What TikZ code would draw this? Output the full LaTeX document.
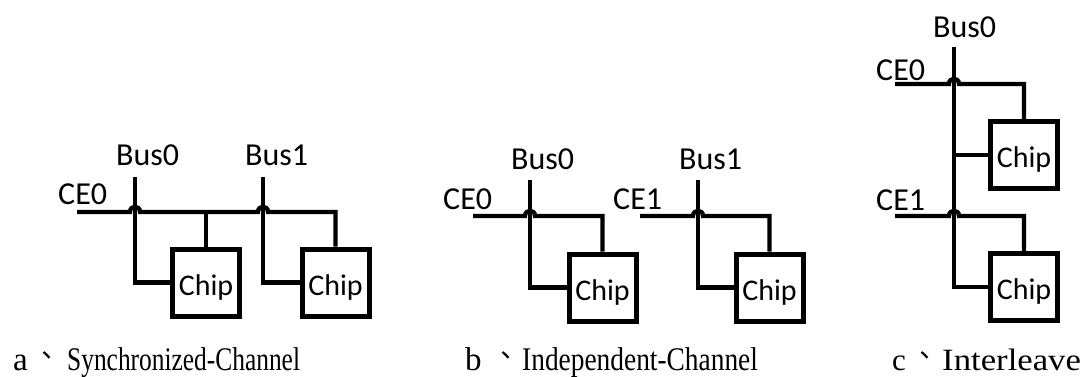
\documentclass[tikz,border=0pt]{standalone}
\usepackage{fontspec}
\usepackage{graphicx}
\setmainfont{Carlito}
\newfontfamily\capfont{Liberation Serif}
\newfontfamily\cjk{Noto Sans CJK TC}
\usetikzlibrary{calc}
\tikzset{
  wire/.style={line width=4.3pt, line join=miter},
  chipbox/.style={draw, line width=5pt, minimum width=67pt, minimum height=67pt, inner sep=0pt,
    font=\fontsize{30}{34}\selectfont},
  sig/.style={anchor=base west, inner sep=0pt, font=\fontsize{32}{36}\selectfont},
  captext/.style={anchor=base west, inner sep=0pt, font=\capfont\fontsize{33}{38}\selectfont},
  capsmall/.style={captext, font=\capfont\fontsize{31}{36}\selectfont},
  capmark/.style={anchor=base west, inner sep=0pt, font=\cjk\fontsize{27}{32}\selectfont},
}
\newcommand{\chiptext}{\raisebox{-12.5pt}[0pt][0pt]{Chip}}
\newcommand{\dunhao}{\raisebox{5pt}{、}}
\newcommand{\hop}[1]{-- ($(#1)+(-5,0)$) .. controls +(0,-7) and +(0,-7) .. ($(#1)+(5,0)$)}
\begin{document}
\begin{tikzpicture}[x=1pt,y=-1pt]
\useasboundingbox (0,0) rectangle (1086,376);

% ---------- a: Synchronized-Channel ----------
\node[chipbox] (a1) at (206,282.5) {\chiptext};
\node[chipbox] (a2) at (335.5,282.5) {\chiptext};
\coordinate (aB0) at (135,177);
\coordinate (aB1) at (263,177);
\coordinate (aCE) at (77,212);
\coordinate (aX0) at (aB0 |- aCE);
\coordinate (aX1) at (aB1 |- aCE);
\draw[wire] (aB0) -- (aB0 |- a1.west) -- (a1.west);
\draw[wire] (aB1) -- (aB1 |- a2.west) -- (a2.west);
\draw[wire] (aCE) \hop{aX0} \hop{aX1} -- (a2.north |- aCE) -- (a2.north);
\draw[wire] (a1.north |- aCE) -- (a1.north);
\node[sig] (aLB0) at (116,165) {Bus0};
\node[sig] (aLB1) at (245,165) {Bus1};
\node[sig] (aLCE) at (58,204) {CE0};

% ---------- b: Independent-Channel ----------
\node[chipbox] (b1) at (602.5,287.5) {\chiptext};
\node[chipbox] (b2) at (769.5,287.5) {\chiptext};
\coordinate (bB0) at (530,180);
\coordinate (bB1) at (698,180);
\coordinate (bCE0) at (473,216);
\coordinate (bCE1) at (640,216);
\coordinate (bX0) at (bB0 |- bCE0);
\coordinate (bX1) at (bB1 |- bCE1);
\draw[wire] (bB0) -- (bB0 |- b1.west) -- (b1.west);
\draw[wire] (bB1) -- (bB1 |- b2.west) -- (b2.west);
\draw[wire] (bCE0) \hop{bX0} -- (b1.north |- bCE0) -- (b1.north);
\draw[wire] (bCE1) \hop{bX1} -- (b2.north |- bCE1) -- (b2.north);
\node[sig] (bLB0) at (511,169) {Bus0};
\node[sig] (bLB1) at (679,169) {Bus1};
\node[sig] (bLCE0) at (443,209) {CE0};
\node[sig] (bLCE1) at (613,209) {CE1};

% ---------- c: Interleave ----------
\node[chipbox] (c1) at (1024,155) {\chiptext};
\node[chipbox] (c2) at (1024,287) {\chiptext};
\coordinate (cB) at (954,47);
\coordinate (cCE0) at (895,84);
\coordinate (cCE1) at (895,216);
\coordinate (cX0) at (cB |- cCE0);
\coordinate (cX1) at (cB |- cCE1);
\draw[wire] (cB) -- (cB |- c2.west) -- (c2.west);
\draw[wire] (cB |- c1.west) -- (c1.west);
\draw[wire] (cCE0) \hop{cX0} -- (c1.north |- cCE0) -- (c1.north);
\draw[wire] (cCE1) \hop{cX1} -- (c2.north |- cCE1) -- (c2.north);
\node[sig] (cLB) at (933,37) {Bus0};
\node[sig] (cLCE0) at (876,80) {CE0};
\node[sig] (cLCE1) at (876,210) {CE1};

% ---------- captions ----------
\node[captext] (capAl) at (13,370) {a};
\node[capmark] (capAm) at (33,370) {\dunhao};
\node[captext] (capAt) at (67,370) {\scalebox{0.77}[1]{Synchronized-Channel}};
\node[captext] (capBl) at (465,370) {b};
\node[capmark] (capBm) at (492,370) {\dunhao};
\node[captext] (capBt) at (522,370) {\scalebox{0.83}[1]{Independent-Channel}};
\node[capsmall] (capCl) at (892,370) {c};
\node[capmark] (capCm) at (911,370) {\dunhao};
\node[capsmall] (capCt) at (942,370) {\scalebox{1.12}[1]{Interleave}};
\end{tikzpicture}
\end{document}
